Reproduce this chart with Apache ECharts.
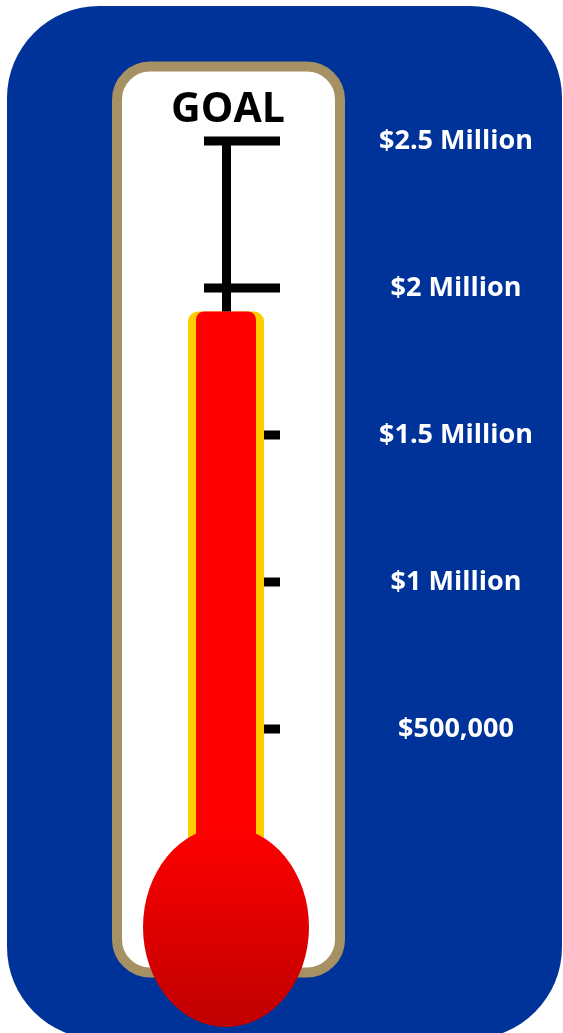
<!DOCTYPE html>
<html>
<head>
<meta charset="utf-8">
<script src="https://cdn.jsdelivr.net/npm/echarts@6/dist/echarts.min.js"></script>
<style>html,body{margin:0;padding:0;background:#fff;}#c{width:563px;height:1033px;}</style>
</head>
<body>
<div id="c"></div>
<script>
// ---- data ----
const categories = ['Raised'];
const raised = [1920000];
const goal = 2500000;
const goalMarks = [2000000, 2500000];
const minorTicks = [500000, 1000000, 1500000];
const tickValues = [0, 500000, 1000000, 1500000, 2000000, 2500000];
const tickLabels = ['', '$500,000', '$1 Million', '$1.5 Million', '$2 Million', '$2.5 Million'];
const titleText = 'GOAL';

// ---- chart ----
const chart = echarts.init(document.getElementById('c'), null, {renderer: 'canvas'});
const FONT = '"Open Sans", "Liberation Sans", sans-serif';

chart.setOption({
  animation: false,
  backgroundColor: '#ffffff',
  grid: {left: 146, right: 257, top: 141, bottom: 157, containLabel: false},
  xAxis: [
    {type: 'category', data: categories, show: false},
    {type: 'category', data: categories, show: false}
  ],
  yAxis: {
    type: 'value', min: 0, max: 2500000, interval: 500000, position: 'right',
    axisLine: {show: false}, axisTick: {show: false}, splitLine: {show: false},
    axisLabel: {
      margin: 150, align: 'center', color: '#ffffff', fontWeight: 'bold',
      fontSize: 27, fontFamily: FONT,
      formatter: function (v) { const i = tickValues.indexOf(v); return i >= 0 ? tickLabels[i] : ''; }
    }
  },
  graphic: [
    {type: 'rect', z: 0, shape: {x: 7, y: 6, width: 555, height: 1033, r: 92}, style: {fill: '#003399'}},
    {type: 'rect', z: 1, shape: {x: 117, y: 66.5, width: 223, height: 906, r: 33},
      style: {fill: '#ffffff', stroke: '#A59164', lineWidth: 10}},
    {type: 'circle', z: 50, x: 226, y: 927, scaleY: 200 / 166, shape: {cx: 0, cy: 0, r: 83},
      style: {fill: new echarts.graphic.LinearGradient(0, 0, 0, 1, [
        {offset: 0, color: '#FF0000'}, {offset: 1, color: '#BF0000'}])}},
    {type: 'text', z: 50, x: 228, y: 110,
      style: {text: titleText, fill: '#000000', font: 'bold 41px ' + FONT, align: 'center', verticalAlign: 'middle'}}
  ],
  series: [
    {
      type: 'bar', xAxisIndex: 0, data: raised, barWidth: 76, z: 3,
      itemStyle: {color: '#FFCC00', borderRadius: [10, 10, 0, 0]}
    },
    {
      type: 'bar', xAxisIndex: 1, data: raised, barWidth: 60, z: 4,
      itemStyle: {color: '#FF0000', borderRadius: [8, 8, 0, 0]},
      markLine: {
        silent: true, symbol: 'none', label: {show: false},
        lineStyle: {color: '#000000', width: 9, type: 'solid'},
        emphasis: {disabled: true},
        data: [[{coord: [categories[0], goal]}, {coord: [categories[0], raised[0]]}]]
      }
    },
    {
      type: 'scatter', z: 5, symbol: 'rect', symbolSize: [76, 9], symbolOffset: [16, 0],
      itemStyle: {color: '#000000', opacity: 1},
      data: goalMarks.map(v => [categories[0], v])
    },
    {
      type: 'scatter', z: 5, symbol: 'rect', symbolSize: [16, 9], symbolOffset: [46, 0],
      itemStyle: {color: '#000000', opacity: 1},
      data: minorTicks.map(v => [categories[0], v])
    }
  ]
});
</script>
</body>
</html>
